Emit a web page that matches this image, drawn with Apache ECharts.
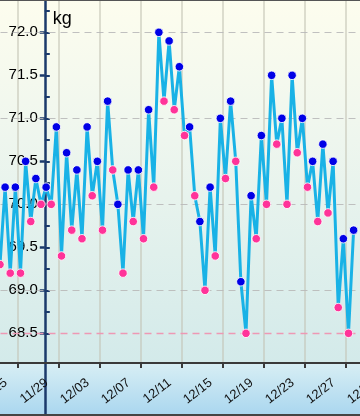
<!DOCTYPE html>
<html><head><meta charset="utf-8">
<script src="https://cdn.jsdelivr.net/npm/echarts@6/dist/echarts.min.js"></script>
<style>
html,body{margin:0;padding:0;background:#fff;}
#wrap{position:relative;width:360px;height:416px;overflow:hidden;
background:linear-gradient(to bottom,#fdfdee 0px,#eef6ee 140px,#d3eaea 363px,#d7eef4 364px,#a9d6ef 416px);}
#chart{position:absolute;left:0;top:0;width:360px;height:416px;}
.bt{position:absolute;left:0;top:0;width:360px;height:1px;background:#555;}
.bb{position:absolute;left:0;bottom:0;width:360px;height:2px;background:#444;}
</style></head><body>
<div id="wrap"><div id="chart"></div><div class="bt"></div><div class="bb"></div></div>
<script>
// ---- data ----
const dates = ['11/23','11/24','11/25','11/26','11/27','11/28','11/29','11/30',
  '12/01','12/02','12/03','12/04','12/05','12/06','12/07','12/08','12/09','12/10',
  '12/11','12/12','12/13','12/14','12/15','12/16','12/17','12/18','12/19','12/20',
  '12/21','12/22','12/23','12/24','12/25','12/26','12/27'];
const morning = [69.3,69.2,69.2,69.8,70.0,70.0,69.4,69.7,69.6,70.1,69.7,70.4,69.2,69.8,69.6,
  70.2,71.2,71.1,70.8,70.1,69.0,69.4,70.3,70.5,68.5,69.6,70.0,70.7,70.0,70.6,70.2,69.8,69.9,68.8,68.5];
const evening = [70.2,70.2,70.5,70.3,70.2,70.9,70.6,70.4,70.9,70.5,71.2,70.0,70.4,70.4,71.1,
  72.0,71.9,71.6,70.9,69.8,70.2,71.0,71.2,69.1,70.1,70.8,71.5,71.0,71.5,71.0,70.5,70.7,70.5,69.6,69.7];
const tickLabels = ['11/21','11/25','11/29','12/03','12/07','12/11','12/15','12/19','12/23','12/27','12/31'];
const yMajorTicks = [68.5,69.0,69.5,70.0,70.5,71.0,71.5,72.0];
const yMinorTicks = [68.75,69.25,69.75,70.25,70.75,71.25,71.75,72.25];
const gridLevels = [69,70,71,72];
const goalWeight = 68.5;
const MORNING_HOUR = 7, EVENING_HOUR = 19;

// ---- build ----
const dayShift = dates.indexOf(tickLabels[1]); // days before first labelled tick
const pts = [];
dates.forEach((d, k) => {
  pts.push({value: [k - dayShift + MORNING_HOUR / 24, morning[k]], itemStyle: {color: '#ff3399'}});
  pts.push({value: [k - dayShift + EVENING_HOUR / 24, evening[k]], itemStyle: {color: '#0000e6'}});
});

const X0 = 17.5, S = 10.25; // layout: pixel of first labelled tick, px per day
const xMin = -4, xMax = 36;
const gridLeft = X0 + xMin * S;
const gridRight = 360 - (X0 + xMax * S);
const yAxisX = 44.8;
const yOff = -(yAxisX - gridLeft);
const FONT = '"Liberation Sans", Arial, Helvetica, sans-serif';
const navy = '#1b3a6b';

const chart = echarts.init(document.getElementById('chart'), null, {renderer: 'canvas'});
chart.setOption({
  animation: false,
  backgroundColor: 'transparent',
  grid: [
    {left: gridLeft, right: gridRight, top: 0, bottom: 53, outerBoundsMode: 'none', containLabel: false},
    {left: gridLeft, right: gridRight, top: 363, bottom: 0, outerBoundsMode: 'none', containLabel: false}
  ],
  xAxis: [{
    gridIndex: 0, type: 'value', min: xMin, max: xMax, interval: 4,
    axisLine: {lineStyle: {color: '#3a3a3a', width: 2}},
    axisTick: {length: 5, lineStyle: {color: '#3a3a3a', width: 2}},
    splitLine: {show: true, lineStyle: {color: 'rgba(195,195,180,0.55)', width: 2}},
    axisLabel: {
      rotate: 38, fontSize: 13, color: '#111', fontFamily: FONT, margin: 9,
      padding: [0, 15, 0, 0], hideOverlap: false,
      formatter: v => tickLabels[Math.round((v - xMin) / 4)] || ''
    }
  }, {
    gridIndex: 1, type: 'value', min: xMin, max: xMax, show: false
  }],
  yAxis: [{
    gridIndex: 0, type: 'value', position: 'left', min: 68.155, max: 72.376, offset: yOff,
    name: 'kg', nameLocation: 'end', nameGap: -28,
    nameTextStyle: {fontSize: 18, color: '#000', fontFamily: FONT, align: 'left', padding: [0, 0, 0, 8]},
    axisLine: {show: true, lineStyle: {color: navy, width: 2.5}},
    axisTick: {show: true, length: 5, customValues: yMajorTicks, lineStyle: {color: navy, width: 2.5}},
    axisLabel: {customValues: yMajorTicks, fontSize: 15, color: '#000', fontFamily: FONT, margin: 7,
      formatter: v => v.toFixed(1)},
    splitLine: {show: false}
  }, {
    gridIndex: 0, type: 'value', position: 'left', min: 68.155, max: 72.376, offset: yOff,
    axisLine: {show: false},
    axisTick: {show: true, inside: true, length: 5,
      customValues: yMajorTicks.concat(yMinorTicks), lineStyle: {color: navy, width: 2}},
    axisLabel: {show: false},
    splitLine: {show: false}
  }, {
    gridIndex: 1, type: 'value', position: 'left', offset: yOff,
    axisLine: {show: true, lineStyle: {color: navy, width: 2.5}},
    axisTick: {show: false}, axisLabel: {show: false}, splitLine: {show: false}
  }],
  series: [{
    type: 'line', xAxisIndex: 0, yAxisIndex: 0, z: 3,
    data: pts,
    symbol: 'circle', symbolSize: 8.5,
    itemStyle: {borderColor: 'rgba(255,255,255,0.85)', borderWidth: 1},
    lineStyle: {color: '#19b2e6', width: 3},
    markLine: {
      z: 1, silent: true, symbol: 'none', label: {show: false},
      data: gridLevels.map(v => ({yAxis: v, lineStyle: {color: 'rgba(185,185,185,0.9)', type: [7, 5], width: 1.2}}))
        .concat([{yAxis: goalWeight, lineStyle: {color: '#ee98b4', type: [7, 5], width: 1.4}}])
    }
  }]
});
</script>
</body></html>
